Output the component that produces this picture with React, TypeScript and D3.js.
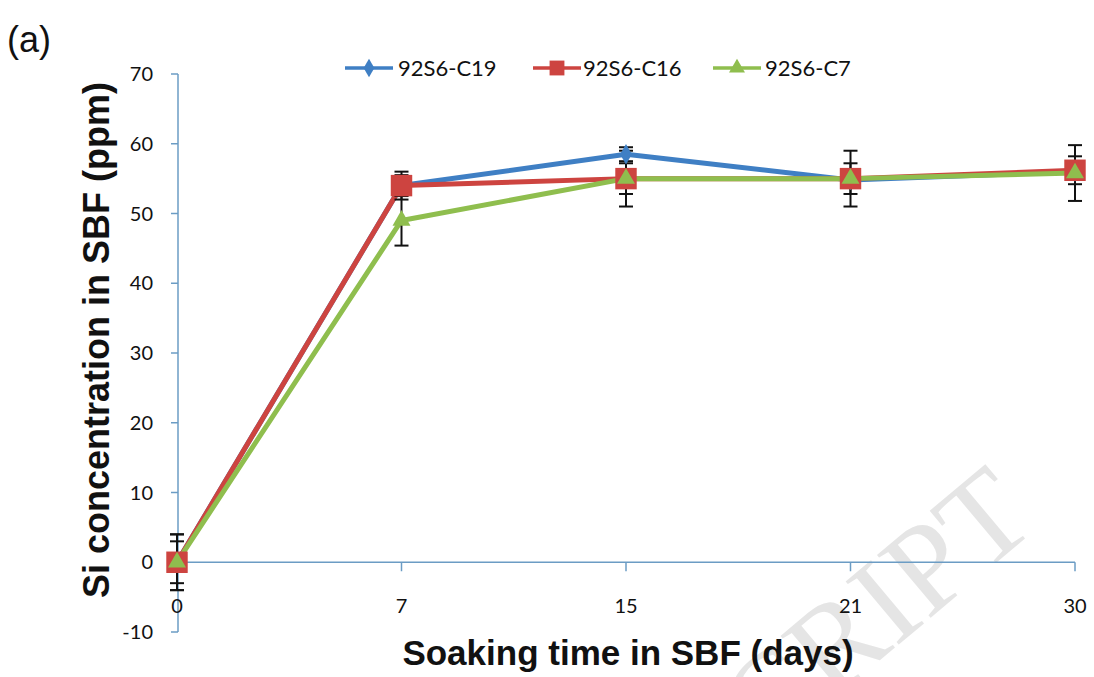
import React from "react";
import * as d3 from "d3";

const categories = ["0", "7", "15", "21", "30"];
const c19Values = [0, 54, 58.5, 54.8, 56];
const c16Values = [0, 54, 55, 55, 56.2];
const c7Values = [0, 49, 55, 55, 55.8];
const c19Err = [3, 1.5, 1, 1, 1];
const c16Err = [4, 2, 2.2, 2.2, 2];
const c7Err = [4, 3.6, 4, 4, 4];
const yTicks = [-10, 0, 10, 20, 30, 40, 50, 60, 70];
const seriesNames = ["92S6-C19", "92S6-C16", "92S6-C7"];

const W = 1094;
const H = 677;

export default function App() {
  const x = d3.scalePoint<string>().domain(categories).range([177, 1075]);
  const y = d3.scaleLinear().domain([-10, 70]).range([632, 74]);

  const series = [
    { name: seriesNames[0], values: c19Values, err: c19Err, color: "#3f7fc4", marker: "diamond" },
    { name: seriesNames[1], values: c16Values, err: c16Err, color: "#cd4440", marker: "square" },
    { name: seriesNames[2], values: c7Values, err: c7Err, color: "#8fbe4e", marker: "triangle" },
  ];

  const line = d3
    .line<number>()
    .x((_, i) => x(categories[i]) as number)
    .y((d) => y(d));

  const sym = (m: string) => {
    if (m === "diamond") return d3.symbol().type(d3.symbolDiamond).size(120)();
    if (m === "square") return d3.symbol().type(d3.symbolSquare).size(460)();
    return d3.symbol().type(d3.symbolTriangle).size(140)();
  };

  const axisColor = "#6b9cc4";
  const tickFont = "Lato, 'Liberation Sans', sans-serif";

  const legendItems = [
    { x0: 345, tx: 398 },
    { x0: 533, tx: 583 },
    { x0: 713, tx: 765 },
  ];

  return (
    <div style={{ position: "absolute", left: 0, top: 0 }}>
      <svg width={W} height={H} style={{ display: "block", background: "#fff" }}>
        {/* watermark (visible part) */}
        <text
          transform="translate(1040,526) rotate(-40)"
          textAnchor="end"
          fontFamily="'Liberation Serif', serif"
          fontSize={126}
          fill="#e5e5e5"
        >
          CRIPT
        </text>

        {/* (a) */}
        <text x={7} y={52} fontFamily="'Liberation Sans', Arial, sans-serif" fontSize={36} fill="#111">
          (a)
        </text>

        {/* Y axis */}
        <line x1={178} x2={178} y1={y(70)} y2={y(-10)} stroke={axisColor} strokeWidth={1.5} />
        {yTicks.map((t) => (
          <g key={t}>
            <line x1={171} x2={178} y1={y(t)} y2={y(t)} stroke={axisColor} strokeWidth={1.5} />
            <text
              x={153}
              y={y(t)}
              dy="0.35em"
              textAnchor="end"
              fontFamily={tickFont}
              fontSize={20}
              fill="#111"
            >
              {t}
            </text>
          </g>
        ))}

        {/* X axis at y=0 */}
        <line x1={x("0")} x2={x("30")} y1={y(0)} y2={y(0)} stroke={axisColor} strokeWidth={1.5} />
        {categories.map((c) => (
          <g key={c}>
            <line
              x1={x(c)}
              x2={x(c)}
              y1={y(0)}
              y2={y(0) + 9}
              stroke={axisColor}
              strokeWidth={1.5}
            />
            <text
              x={x(c)}
              y={606}
              dy="0.35em"
              textAnchor="middle"
              fontFamily={tickFont}
              fontSize={20}
              fill="#111"
            >
              {c}
            </text>
          </g>
        ))}

        {/* Axis titles */}
        <text
          x={628}
          y={665}
          textAnchor="middle"
          fontFamily="'Liberation Sans', Arial, sans-serif"
          fontWeight="bold"
          fontSize={35}
          fill="#111"
        >
          Soaking time in SBF (days)
        </text>
        <text
          transform="translate(109,340) rotate(-90)"
          textAnchor="middle"
          fontFamily="'Liberation Sans', Arial, sans-serif"
          fontWeight="bold"
          fontSize={36}
          fill="#111"
        >
          Si concentration in SBF (ppm)
        </text>

        {/* lines */}
        {series.map((s) => (
          <path
            key={s.name + "-line"}
            d={line(s.values) as string}
            fill="none"
            stroke={s.color}
            strokeWidth={5}
            strokeLinejoin="round"
          />
        ))}

        {/* error bars */}
        {series.map((s) =>
          s.values.map((v, i) => {
            const cx = x(categories[i]) as number;
            const top = y(v + s.err[i]);
            const bot = y(v - s.err[i]);
            return (
              <g key={s.name + "-err-" + i} stroke="#111" strokeWidth={2}>
                <line x1={cx} x2={cx} y1={top} y2={bot} />
                <line x1={cx - 7} x2={cx + 7} y1={top} y2={top} />
                <line x1={cx - 7} x2={cx + 7} y1={bot} y2={bot} />
              </g>
            );
          })
        )}

        {/* markers */}
        {series.map((s) =>
          s.values.map((v, i) => (
            <path
              key={s.name + "-m-" + i}
              d={sym(s.marker) as string}
              transform={`translate(${x(categories[i])},${y(v)})`}
              fill={s.color}
            />
          ))
        )}

        {/* legend */}
        {series.map((s, k) => (
          <g key={s.name + "-leg"}>
            <line
              x1={legendItems[k].x0}
              x2={legendItems[k].x0 + 48}
              y1={68}
              y2={68}
              stroke={s.color}
              strokeWidth={3.5}
            />
            <path
              d={
                (s.marker === "square"
                  ? d3.symbol().type(d3.symbolSquare).size(220)()
                  : s.marker === "diamond"
                  ? d3.symbol().type(d3.symbolDiamond).size(100)()
                  : d3.symbol().type(d3.symbolTriangle).size(110)()) as string
              }
              transform={`translate(${legendItems[k].x0 + 24},68)`}
              fill={s.color}
            />
            <text
              x={legendItems[k].tx}
              y={68}
              dy="0.35em"
              fontFamily={tickFont}
              fontSize={22}
              fill="#111"
            >
              {s.name}
            </text>
          </g>
        ))}
      </svg>
    </div>
  );
}
